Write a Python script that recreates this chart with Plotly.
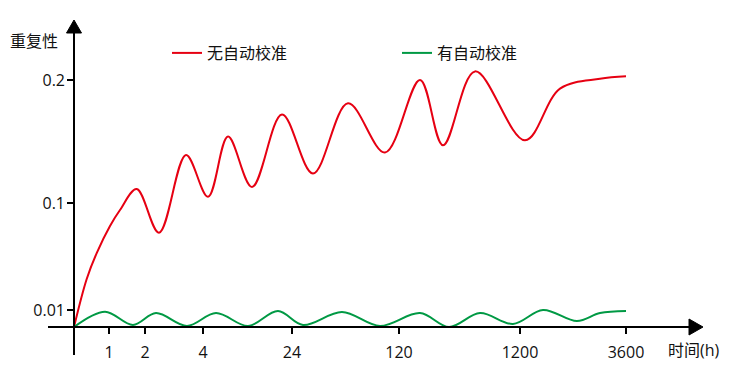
import numpy as np
import plotly.graph_objects as go

# x positions along the (non-uniform) time axis, in axis units
x_tick_pos = [35, 71, 129, 218, 325, 446, 552]
x_tick_labels = ["1", "2", "4", "24", "120", "1200", "3600"]

# y axis: values and their axis positions (non-uniform scale)
y_tick_vals = [0.01, 0.1, 0.2]
y_tick_labels = ["0.01", "0.1", "0.2"]
y_scale_vals = [0, 0.01, 0.1, 0.2, 0.3]
y_scale_pos = [0, 17, 124, 247, 370]

# Without auto-calibration (red)
red_x = [0, 12.7, 22.7, 36, 46, 62.7, 85, 112, 134, 154, 178, 208, 239, 274, 311, 346, 369, 401,
         451, 486, 526, 552]
red_y = [0.0, 0.0361, 0.0579, 0.0807, 0.0941, 0.1114, 0.075, 0.139, 0.105, 0.154, 0.113, 0.172,
         0.124, 0.181, 0.141, 0.200, 0.147, 0.207, 0.151, 0.193, 0.201, 0.203]

# With auto-calibration (green)
green_x = [0, 31, 59, 82, 113, 142, 174, 204, 229, 268, 306, 346, 375, 406, 439, 469, 503, 526, 552]
green_y = [0.0, 0.0090, 0.0012, 0.0082, 0.0006, 0.0082, 0.0006, 0.0094, 0.0012, 0.0088, 0.0006,
           0.0082, 0.0, 0.0082, 0.0018, 0.0100, 0.0035, 0.0082, 0.0094]


def yscale(v):
    return np.interp(v, y_scale_vals, y_scale_pos)


fig = go.Figure()
fig.add_trace(go.Scatter(x=red_x, y=yscale(red_y), mode="lines", name="无自动校准",
                         line=dict(color="#E60012", width=2, shape="spline", smoothing=1.0)))
fig.add_trace(go.Scatter(x=green_x, y=yscale(green_y), mode="lines", name="有自动校准",
                         line=dict(color="#009944", width=2, shape="spline", smoothing=1.0)))

font = "Open Sans, Noto Sans CJK SC, sans-serif"
FS = 16

fig.update_layout(
    width=739, height=378,
    margin=dict(l=0, r=0, t=0, b=0, autoexpand=False),
    paper_bgcolor="white", plot_bgcolor="white",
    font=dict(family=font, size=FS, color="#111"),
    xaxis=dict(range=[-74, 665], showgrid=False, zeroline=False, showline=False,
               tickvals=x_tick_pos, ticktext=x_tick_labels, ticks="", fixedrange=True,
               anchor="free", position=(378 - 341) / 378, automargin=False,
               tickfont=dict(size=FS)),
    yaxis=dict(range=[-51, 327], showgrid=False, zeroline=False, showline=False,
               tickvals=list(yscale(y_tick_vals)), ticktext=y_tick_labels, ticks="",
               anchor="free", position=65 / 739, automargin=False,
               fixedrange=True, tickfont=dict(size=FS)),
    legend=dict(orientation="h", x=167 / 739, xanchor="left", y=1 - 36 / 378, yanchor="top",
                entrywidth=185, entrywidthmode="pixels", font=dict(size=FS),
                bgcolor="rgba(0,0,0,0)"),
    showlegend=True,
)

shapes = []
# axes lines
shapes.append(dict(type="line", xref="x", yref="y", x0=0, x1=0, y0=-28, y1=300,
                   line=dict(color="black", width=2)))
shapes.append(dict(type="line", xref="x", yref="y", x0=-26, x1=616, y0=0, y1=0,
                   line=dict(color="black", width=2)))
# arrowheads
shapes.append(dict(type="path", xref="x", yref="y", path="M -7.5 294 L 7.5 294 L 0 307 Z",
                   fillcolor="black", line=dict(color="black", width=1)))
shapes.append(dict(type="path", xref="x", yref="y", path="M 615 8 L 615 -8 L 629 0 Z",
                   fillcolor="black", line=dict(color="black", width=1)))
# x ticks
for xp in x_tick_pos:
    shapes.append(dict(type="line", xref="x", yref="y", x0=xp, x1=xp, y0=0, y1=-7,
                       line=dict(color="black", width=2)))
# y ticks
for yv in y_tick_vals:
    yp = float(yscale(yv))
    shapes.append(dict(type="line", xref="x", yref="y", x0=-7, x1=0, y0=yp, y1=yp,
                       line=dict(color="black", width=2)))
fig.update_layout(shapes=shapes)

annotations = [
    dict(xref="x", yref="y", x=-14, y=286, text="重复性", showarrow=False,
         xanchor="right", yanchor="middle", font=dict(size=FS, family=font)),
    dict(xref="x", yref="y", x=592, y=-23, text="时间(h)", showarrow=False,
         xanchor="left", yanchor="middle", font=dict(size=FS, family=font)),
]
fig.update_layout(annotations=annotations)

fig.write_html("out.html", config={"displayModeBar": False},
               post_script="document.body.style.margin='0px';")
